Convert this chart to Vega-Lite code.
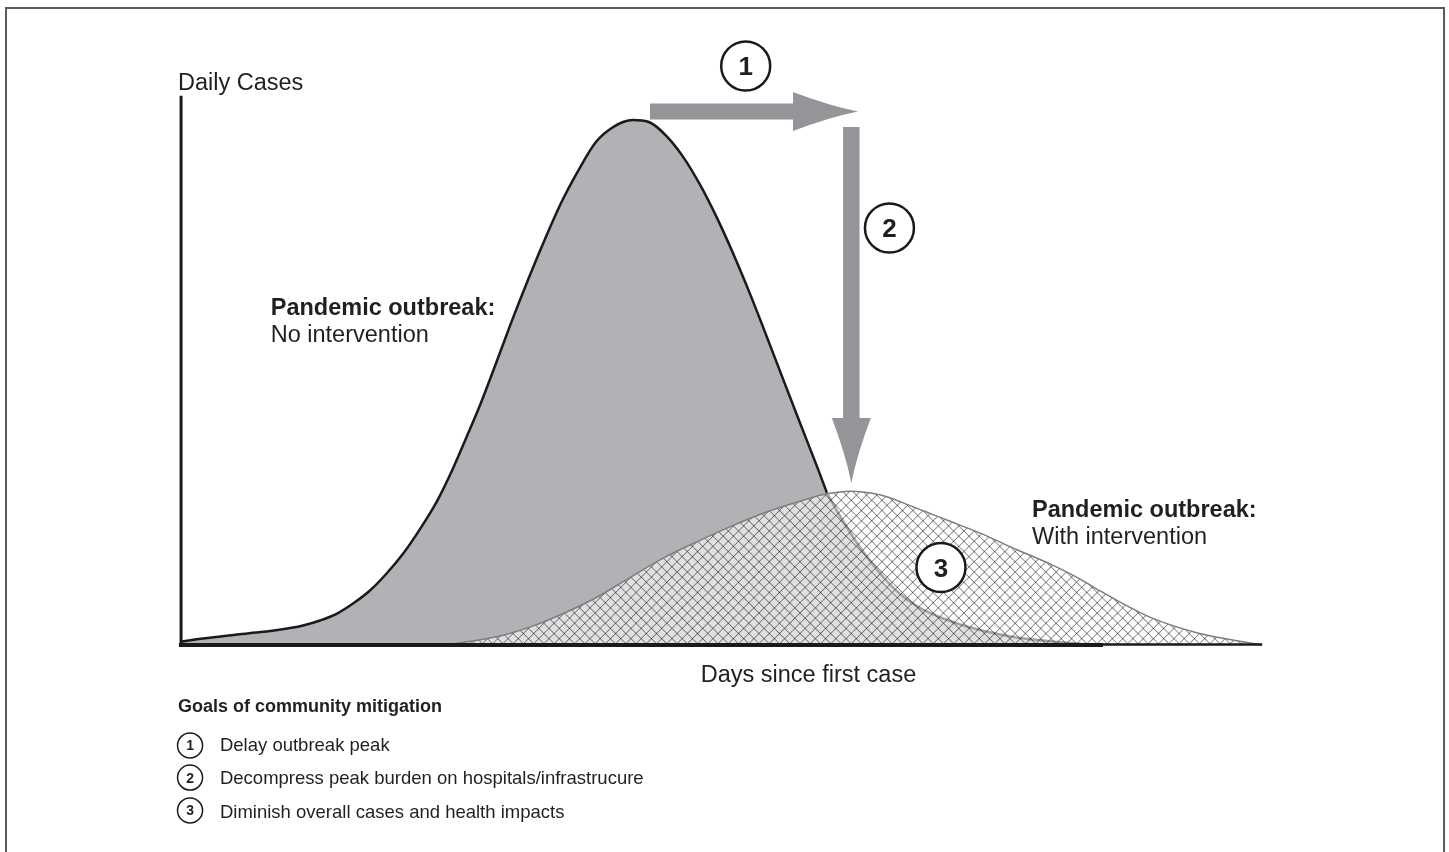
{
"$schema":"https://vega.github.io/schema/vega-lite/v6.json",
"width":1449,"height":852,"autosize":{"type":"none"},"padding":0,"background":"white",
"config":{"view":{"stroke":null},"font":"Liberation Sans"},
"data":{"values":[{}]},
"datasets":{
"noIntervention":[{"day":0,"cases":0.6},{"day":2.13,"cases":1.24},{"day":5.28,"cases":1.99},{"day":8.33,"cases":2.67},{"day":11.39,"cases":3.71},{"day":12.96,"cases":4.67},{"day":14.54,"cases":5.99},{"day":16.02,"cases":7.9},{"day":17.59,"cases":10.38},{"day":19.17,"cases":13.71},{"day":20.65,"cases":17.37},{"day":22.22,"cases":22.07},{"day":23.8,"cases":27.41},{"day":25.18,"cases":33.2},{"day":26.65,"cases":40.17},{"day":27.86,"cases":46.11},{"day":29.15,"cases":53.05},{"day":30.63,"cases":61.22},{"day":32.21,"cases":69.48},{"day":33.78,"cases":77.25},{"day":35.26,"cases":84.1},{"day":36.89,"cases":90.42},{"day":38.51,"cases":95.81},{"day":40.04,"cases":98.57},{"day":41.02,"cases":99.62},{"day":41.94,"cases":100},{"day":42.78,"cases":99.89},{"day":43.52,"cases":99.52},{"day":45.09,"cases":96.84},{"day":46.57,"cases":93.03},{"day":48.15,"cases":87.68},{"day":49.72,"cases":81.35},{"day":51.2,"cases":74.65},{"day":52.78,"cases":66.88},{"day":54.35,"cases":58.63},{"day":55.83,"cases":50.7},{"day":57.41,"cases":42.29},{"day":58.98,"cases":34.02},{"day":59.9,"cases":29.0},{"day":61.11,"cases":24.57},{"day":62.5,"cases":20.0},{"day":63.89,"cases":16.0},{"day":65.28,"cases":12.57},{"day":66.67,"cases":9.71},{"day":68.06,"cases":7.62},{"day":69.44,"cases":6.1},{"day":71.02,"cases":4.76},{"day":72.69,"cases":3.62},{"day":74.07,"cases":2.86},{"day":75.93,"cases":2.0},{"day":77.78,"cases":1.33},{"day":80.28,"cases":0.76},{"day":82.41,"cases":0.38},{"day":85.19,"cases":0}],
"withIntervention":[{"day":24.1,"cases":0},{"day":26.2,"cases":0.5},{"day":29.4,"cases":1.6},{"day":32.4,"cases":3.4},{"day":35.5,"cases":6.0},{"day":38.6,"cases":9.1},{"day":41.7,"cases":12.9},{"day":44.7,"cases":16.5},{"day":47.9,"cases":19.7},{"day":50.9,"cases":22.5},{"day":54.0,"cases":25.1},{"day":57.1,"cases":27.2},{"day":59.9,"cases":28.8},{"day":62.1,"cases":29.3},{"day":64.8,"cases":28.6},{"day":67.9,"cases":26.3},{"day":71.0,"cases":23.8},{"day":74.1,"cases":21.3},{"day":77.1,"cases":18.5},{"day":80.6,"cases":15.4},{"day":83.3,"cases":12.6},{"day":85.2,"cases":10.3},{"day":89.8,"cases":5.3},{"day":94.4,"cases":2.2},{"day":99.1,"cases":0.4},{"day":100.2,"cases":0}]
},
"layer":[
{"mark":{"type":"rect","fill":null,"stroke":"#5a5a5a","strokeWidth":2},
 "encoding":{"x":{"datum":-16.11,"type":"quantitative","scale":{"domain":[-16.6667,117.5],"nice":false,"zero":false},"axis":null},"x2":{"datum":117.04},
 "y":{"datum":121.33,"type":"quantitative","scale":{"domain":[-39.4286,122.8571],"nice":false,"zero":false},"axis":null},"y2":{"datum":-45}}},
{"data":{"name":"noIntervention"},"mark":{"type":"area","interpolate":"monotone","fill":"#b1b2b5"},
 "encoding":{"x":{"field":"day","type":"quantitative","axis":null},"y":{"field":"cases","type":"quantitative","axis":null}}},
{"data":{"name":"withIntervention"},"mark":{"type":"area","interpolate":"monotone","fill":"#ffffff","fillOpacity":0.6},
 "encoding":{"x":{"field":"day","type":"quantitative","axis":null},"y":{"field":"cases","type":"quantitative","axis":null}}},
{"data":{"name":"noIntervention"},"transform":[{"filter":"datum.day >= 59.9"}],"mark":{"type":"line","interpolate":"monotone","stroke":"#a3a3a3","strokeWidth":2.5},
 "encoding":{"x":{"field":"day","type":"quantitative","axis":null},"y":{"field":"cases","type":"quantitative","axis":null}}},
{"data":{"name":"withIntervention"},"mark":{"type":"area","interpolate":"monotone","blend":"multiply","fill":{"gradient":"linear","x1":0,"y1":0,"x2":1.147,"y2":0.2146,"stops":[
{"offset":0.1458,"color":"#fff"},{"offset":0.147,"color":"#828282"},{"offset":0.1482,"color":"#fff"},
{"offset":0.1563,"color":"#fff"},{"offset":0.1575,"color":"#828282"},{"offset":0.1587,"color":"#fff"},
{"offset":0.1668,"color":"#fff"},{"offset":0.168,"color":"#828282"},{"offset":0.1692,"color":"#fff"},
{"offset":0.1773,"color":"#fff"},{"offset":0.1785,"color":"#828282"},{"offset":0.1797,"color":"#fff"},
{"offset":0.1878,"color":"#fff"},{"offset":0.189,"color":"#828282"},{"offset":0.1902,"color":"#fff"},
{"offset":0.1983,"color":"#fff"},{"offset":0.1995,"color":"#828282"},{"offset":0.2007,"color":"#fff"},
{"offset":0.2088,"color":"#fff"},{"offset":0.21,"color":"#828282"},{"offset":0.2112,"color":"#fff"},
{"offset":0.2193,"color":"#fff"},{"offset":0.2205,"color":"#828282"},{"offset":0.2217,"color":"#fff"},
{"offset":0.2298,"color":"#fff"},{"offset":0.231,"color":"#828282"},{"offset":0.2322,"color":"#fff"},
{"offset":0.2403,"color":"#fff"},{"offset":0.2415,"color":"#828282"},{"offset":0.2427,"color":"#fff"},
{"offset":0.2508,"color":"#fff"},{"offset":0.252,"color":"#828282"},{"offset":0.2532,"color":"#fff"},
{"offset":0.2613,"color":"#fff"},{"offset":0.2625,"color":"#828282"},{"offset":0.2637,"color":"#fff"},
{"offset":0.2718,"color":"#fff"},{"offset":0.273,"color":"#828282"},{"offset":0.2742,"color":"#fff"},
{"offset":0.2823,"color":"#fff"},{"offset":0.2835,"color":"#828282"},{"offset":0.2847,"color":"#fff"},
{"offset":0.2928,"color":"#fff"},{"offset":0.294,"color":"#828282"},{"offset":0.2952,"color":"#fff"},
{"offset":0.3033,"color":"#fff"},{"offset":0.3045,"color":"#828282"},{"offset":0.3057,"color":"#fff"},
{"offset":0.3138,"color":"#fff"},{"offset":0.315,"color":"#828282"},{"offset":0.3162,"color":"#fff"},
{"offset":0.3243,"color":"#fff"},{"offset":0.3255,"color":"#828282"},{"offset":0.3267,"color":"#fff"},
{"offset":0.3348,"color":"#fff"},{"offset":0.336,"color":"#828282"},{"offset":0.3372,"color":"#fff"},
{"offset":0.3453,"color":"#fff"},{"offset":0.3465,"color":"#828282"},{"offset":0.3477,"color":"#fff"},
{"offset":0.3558,"color":"#fff"},{"offset":0.357,"color":"#828282"},{"offset":0.3582,"color":"#fff"},
{"offset":0.3663,"color":"#fff"},{"offset":0.3675,"color":"#828282"},{"offset":0.3687,"color":"#fff"},
{"offset":0.3768,"color":"#fff"},{"offset":0.378,"color":"#828282"},{"offset":0.3792,"color":"#fff"},
{"offset":0.3873,"color":"#fff"},{"offset":0.3885,"color":"#828282"},{"offset":0.3897,"color":"#fff"},
{"offset":0.3978,"color":"#fff"},{"offset":0.399,"color":"#828282"},{"offset":0.4002,"color":"#fff"},
{"offset":0.4083,"color":"#fff"},{"offset":0.4095,"color":"#828282"},{"offset":0.4107,"color":"#fff"},
{"offset":0.4188,"color":"#fff"},{"offset":0.42,"color":"#828282"},{"offset":0.4212,"color":"#fff"},
{"offset":0.4293,"color":"#fff"},{"offset":0.4305,"color":"#828282"},{"offset":0.4317,"color":"#fff"},
{"offset":0.4398,"color":"#fff"},{"offset":0.441,"color":"#828282"},{"offset":0.4422,"color":"#fff"},
{"offset":0.4503,"color":"#fff"},{"offset":0.4515,"color":"#828282"},{"offset":0.4527,"color":"#fff"},
{"offset":0.4608,"color":"#fff"},{"offset":0.462,"color":"#828282"},{"offset":0.4632,"color":"#fff"},
{"offset":0.4713,"color":"#fff"},{"offset":0.4725,"color":"#828282"},{"offset":0.4737,"color":"#fff"},
{"offset":0.4818,"color":"#fff"},{"offset":0.483,"color":"#828282"},{"offset":0.4842,"color":"#fff"},
{"offset":0.4923,"color":"#fff"},{"offset":0.4935,"color":"#828282"},{"offset":0.4947,"color":"#fff"},
{"offset":0.5028,"color":"#fff"},{"offset":0.504,"color":"#828282"},{"offset":0.5052,"color":"#fff"},
{"offset":0.5133,"color":"#fff"},{"offset":0.5145,"color":"#828282"},{"offset":0.5157,"color":"#fff"},
{"offset":0.5238,"color":"#fff"},{"offset":0.525,"color":"#828282"},{"offset":0.5262,"color":"#fff"},
{"offset":0.5343,"color":"#fff"},{"offset":0.5355,"color":"#828282"},{"offset":0.5367,"color":"#fff"},
{"offset":0.5448,"color":"#fff"},{"offset":0.546,"color":"#828282"},{"offset":0.5472,"color":"#fff"},
{"offset":0.5553,"color":"#fff"},{"offset":0.5565,"color":"#828282"},{"offset":0.5577,"color":"#fff"},
{"offset":0.5658,"color":"#fff"},{"offset":0.567,"color":"#828282"},{"offset":0.5682,"color":"#fff"},
{"offset":0.5763,"color":"#fff"},{"offset":0.5775,"color":"#828282"},{"offset":0.5787,"color":"#fff"},
{"offset":0.5868,"color":"#fff"},{"offset":0.588,"color":"#828282"},{"offset":0.5892,"color":"#fff"},
{"offset":0.5973,"color":"#fff"},{"offset":0.5985,"color":"#828282"},{"offset":0.5997,"color":"#fff"},
{"offset":0.6078,"color":"#fff"},{"offset":0.609,"color":"#828282"},{"offset":0.6102,"color":"#fff"},
{"offset":0.6183,"color":"#fff"},{"offset":0.6195,"color":"#828282"},{"offset":0.6207,"color":"#fff"},
{"offset":0.6288,"color":"#fff"},{"offset":0.63,"color":"#828282"},{"offset":0.6312,"color":"#fff"},
{"offset":0.6393,"color":"#fff"},{"offset":0.6405,"color":"#828282"},{"offset":0.6417,"color":"#fff"},
{"offset":0.6498,"color":"#fff"},{"offset":0.651,"color":"#828282"},{"offset":0.6522,"color":"#fff"},
{"offset":0.6603,"color":"#fff"},{"offset":0.6615,"color":"#828282"},{"offset":0.6627,"color":"#fff"},
{"offset":0.6708,"color":"#fff"},{"offset":0.672,"color":"#828282"},{"offset":0.6732,"color":"#fff"},
{"offset":0.6813,"color":"#fff"},{"offset":0.6825,"color":"#828282"},{"offset":0.6837,"color":"#fff"},
{"offset":0.6918,"color":"#fff"},{"offset":0.693,"color":"#828282"},{"offset":0.6942,"color":"#fff"},
{"offset":0.7023,"color":"#fff"},{"offset":0.7035,"color":"#828282"},{"offset":0.7047,"color":"#fff"},
{"offset":0.7128,"color":"#fff"},{"offset":0.714,"color":"#828282"},{"offset":0.7152,"color":"#fff"},
{"offset":0.7233,"color":"#fff"},{"offset":0.7245,"color":"#828282"},{"offset":0.7257,"color":"#fff"},
{"offset":0.7338,"color":"#fff"},{"offset":0.735,"color":"#828282"},{"offset":0.7362,"color":"#fff"},
{"offset":0.7443,"color":"#fff"},{"offset":0.7455,"color":"#828282"},{"offset":0.7467,"color":"#fff"},
{"offset":0.7548,"color":"#fff"},{"offset":0.756,"color":"#828282"},{"offset":0.7572,"color":"#fff"},
{"offset":0.7653,"color":"#fff"},{"offset":0.7665,"color":"#828282"},{"offset":0.7677,"color":"#fff"},
{"offset":0.7758,"color":"#fff"},{"offset":0.777,"color":"#828282"},{"offset":0.7782,"color":"#fff"},
{"offset":0.7863,"color":"#fff"},{"offset":0.7875,"color":"#828282"},{"offset":0.7887,"color":"#fff"},
{"offset":0.7968,"color":"#fff"},{"offset":0.798,"color":"#828282"},{"offset":0.7992,"color":"#fff"},
{"offset":0.8073,"color":"#fff"},{"offset":0.8085,"color":"#828282"},{"offset":0.8097,"color":"#fff"},
{"offset":0.8178,"color":"#fff"},{"offset":0.819,"color":"#828282"},{"offset":0.8202,"color":"#fff"},
{"offset":0.8283,"color":"#fff"},{"offset":0.8295,"color":"#828282"},{"offset":0.8307,"color":"#fff"},
{"offset":0.8388,"color":"#fff"},{"offset":0.84,"color":"#828282"},{"offset":0.8412,"color":"#fff"},
{"offset":0.8493,"color":"#fff"},{"offset":0.8505,"color":"#828282"},{"offset":0.8517,"color":"#fff"},
{"offset":0.8598,"color":"#fff"},{"offset":0.861,"color":"#828282"},{"offset":0.8622,"color":"#fff"},
{"offset":0.8703,"color":"#fff"},{"offset":0.8715,"color":"#828282"},{"offset":0.8727,"color":"#fff"},
{"offset":0.8808,"color":"#fff"},{"offset":0.882,"color":"#828282"},{"offset":0.8832,"color":"#fff"},
{"offset":0.8913,"color":"#fff"},{"offset":0.8925,"color":"#828282"},{"offset":0.8937,"color":"#fff"},
{"offset":0.9018,"color":"#fff"},{"offset":0.903,"color":"#828282"},{"offset":0.9042,"color":"#fff"},
{"offset":0.9123,"color":"#fff"},{"offset":0.9135,"color":"#828282"},{"offset":0.9147,"color":"#fff"},
{"offset":0.9228,"color":"#fff"},{"offset":0.924,"color":"#828282"},{"offset":0.9252,"color":"#fff"},
{"offset":0.9333,"color":"#fff"},{"offset":0.9345,"color":"#828282"},{"offset":0.9357,"color":"#fff"},
{"offset":0.9438,"color":"#fff"},{"offset":0.945,"color":"#828282"},{"offset":0.9462,"color":"#fff"},
{"offset":0.9543,"color":"#fff"},{"offset":0.9555,"color":"#828282"},{"offset":0.9567,"color":"#fff"},
{"offset":0.9648,"color":"#fff"},{"offset":0.966,"color":"#828282"},{"offset":0.9672,"color":"#fff"},
{"offset":0.9753,"color":"#fff"},{"offset":0.9765,"color":"#828282"},{"offset":0.9777,"color":"#fff"},
{"offset":0.9858,"color":"#fff"},{"offset":0.987,"color":"#828282"},{"offset":0.9882,"color":"#fff"},
{"offset":0.9963,"color":"#fff"},{"offset":0.9975,"color":"#828282"},{"offset":0.9987,"color":"#fff"}]}},
 "encoding":{"x":{"field":"day","type":"quantitative","axis":null},"y":{"field":"cases","type":"quantitative","axis":null}}},
{"data":{"name":"withIntervention"},"mark":{"type":"area","interpolate":"monotone","blend":"multiply","fill":{"gradient":"linear","x1":1,"y1":0,"x2":-0.147,"y2":0.2146,"stops":[
{"offset":0.1458,"color":"#fff"},{"offset":0.147,"color":"#828282"},{"offset":0.1482,"color":"#fff"},
{"offset":0.1563,"color":"#fff"},{"offset":0.1575,"color":"#828282"},{"offset":0.1587,"color":"#fff"},
{"offset":0.1668,"color":"#fff"},{"offset":0.168,"color":"#828282"},{"offset":0.1692,"color":"#fff"},
{"offset":0.1773,"color":"#fff"},{"offset":0.1785,"color":"#828282"},{"offset":0.1797,"color":"#fff"},
{"offset":0.1878,"color":"#fff"},{"offset":0.189,"color":"#828282"},{"offset":0.1902,"color":"#fff"},
{"offset":0.1983,"color":"#fff"},{"offset":0.1995,"color":"#828282"},{"offset":0.2007,"color":"#fff"},
{"offset":0.2088,"color":"#fff"},{"offset":0.21,"color":"#828282"},{"offset":0.2112,"color":"#fff"},
{"offset":0.2193,"color":"#fff"},{"offset":0.2205,"color":"#828282"},{"offset":0.2217,"color":"#fff"},
{"offset":0.2298,"color":"#fff"},{"offset":0.231,"color":"#828282"},{"offset":0.2322,"color":"#fff"},
{"offset":0.2403,"color":"#fff"},{"offset":0.2415,"color":"#828282"},{"offset":0.2427,"color":"#fff"},
{"offset":0.2508,"color":"#fff"},{"offset":0.252,"color":"#828282"},{"offset":0.2532,"color":"#fff"},
{"offset":0.2613,"color":"#fff"},{"offset":0.2625,"color":"#828282"},{"offset":0.2637,"color":"#fff"},
{"offset":0.2718,"color":"#fff"},{"offset":0.273,"color":"#828282"},{"offset":0.2742,"color":"#fff"},
{"offset":0.2823,"color":"#fff"},{"offset":0.2835,"color":"#828282"},{"offset":0.2847,"color":"#fff"},
{"offset":0.2928,"color":"#fff"},{"offset":0.294,"color":"#828282"},{"offset":0.2952,"color":"#fff"},
{"offset":0.3033,"color":"#fff"},{"offset":0.3045,"color":"#828282"},{"offset":0.3057,"color":"#fff"},
{"offset":0.3138,"color":"#fff"},{"offset":0.315,"color":"#828282"},{"offset":0.3162,"color":"#fff"},
{"offset":0.3243,"color":"#fff"},{"offset":0.3255,"color":"#828282"},{"offset":0.3267,"color":"#fff"},
{"offset":0.3348,"color":"#fff"},{"offset":0.336,"color":"#828282"},{"offset":0.3372,"color":"#fff"},
{"offset":0.3453,"color":"#fff"},{"offset":0.3465,"color":"#828282"},{"offset":0.3477,"color":"#fff"},
{"offset":0.3558,"color":"#fff"},{"offset":0.357,"color":"#828282"},{"offset":0.3582,"color":"#fff"},
{"offset":0.3663,"color":"#fff"},{"offset":0.3675,"color":"#828282"},{"offset":0.3687,"color":"#fff"},
{"offset":0.3768,"color":"#fff"},{"offset":0.378,"color":"#828282"},{"offset":0.3792,"color":"#fff"},
{"offset":0.3873,"color":"#fff"},{"offset":0.3885,"color":"#828282"},{"offset":0.3897,"color":"#fff"},
{"offset":0.3978,"color":"#fff"},{"offset":0.399,"color":"#828282"},{"offset":0.4002,"color":"#fff"},
{"offset":0.4083,"color":"#fff"},{"offset":0.4095,"color":"#828282"},{"offset":0.4107,"color":"#fff"},
{"offset":0.4188,"color":"#fff"},{"offset":0.42,"color":"#828282"},{"offset":0.4212,"color":"#fff"},
{"offset":0.4293,"color":"#fff"},{"offset":0.4305,"color":"#828282"},{"offset":0.4317,"color":"#fff"},
{"offset":0.4398,"color":"#fff"},{"offset":0.441,"color":"#828282"},{"offset":0.4422,"color":"#fff"},
{"offset":0.4503,"color":"#fff"},{"offset":0.4515,"color":"#828282"},{"offset":0.4527,"color":"#fff"},
{"offset":0.4608,"color":"#fff"},{"offset":0.462,"color":"#828282"},{"offset":0.4632,"color":"#fff"},
{"offset":0.4713,"color":"#fff"},{"offset":0.4725,"color":"#828282"},{"offset":0.4737,"color":"#fff"},
{"offset":0.4818,"color":"#fff"},{"offset":0.483,"color":"#828282"},{"offset":0.4842,"color":"#fff"},
{"offset":0.4923,"color":"#fff"},{"offset":0.4935,"color":"#828282"},{"offset":0.4947,"color":"#fff"},
{"offset":0.5028,"color":"#fff"},{"offset":0.504,"color":"#828282"},{"offset":0.5052,"color":"#fff"},
{"offset":0.5133,"color":"#fff"},{"offset":0.5145,"color":"#828282"},{"offset":0.5157,"color":"#fff"},
{"offset":0.5238,"color":"#fff"},{"offset":0.525,"color":"#828282"},{"offset":0.5262,"color":"#fff"},
{"offset":0.5343,"color":"#fff"},{"offset":0.5355,"color":"#828282"},{"offset":0.5367,"color":"#fff"},
{"offset":0.5448,"color":"#fff"},{"offset":0.546,"color":"#828282"},{"offset":0.5472,"color":"#fff"},
{"offset":0.5553,"color":"#fff"},{"offset":0.5565,"color":"#828282"},{"offset":0.5577,"color":"#fff"},
{"offset":0.5658,"color":"#fff"},{"offset":0.567,"color":"#828282"},{"offset":0.5682,"color":"#fff"},
{"offset":0.5763,"color":"#fff"},{"offset":0.5775,"color":"#828282"},{"offset":0.5787,"color":"#fff"},
{"offset":0.5868,"color":"#fff"},{"offset":0.588,"color":"#828282"},{"offset":0.5892,"color":"#fff"},
{"offset":0.5973,"color":"#fff"},{"offset":0.5985,"color":"#828282"},{"offset":0.5997,"color":"#fff"},
{"offset":0.6078,"color":"#fff"},{"offset":0.609,"color":"#828282"},{"offset":0.6102,"color":"#fff"},
{"offset":0.6183,"color":"#fff"},{"offset":0.6195,"color":"#828282"},{"offset":0.6207,"color":"#fff"},
{"offset":0.6288,"color":"#fff"},{"offset":0.63,"color":"#828282"},{"offset":0.6312,"color":"#fff"},
{"offset":0.6393,"color":"#fff"},{"offset":0.6405,"color":"#828282"},{"offset":0.6417,"color":"#fff"},
{"offset":0.6498,"color":"#fff"},{"offset":0.651,"color":"#828282"},{"offset":0.6522,"color":"#fff"},
{"offset":0.6603,"color":"#fff"},{"offset":0.6615,"color":"#828282"},{"offset":0.6627,"color":"#fff"},
{"offset":0.6708,"color":"#fff"},{"offset":0.672,"color":"#828282"},{"offset":0.6732,"color":"#fff"},
{"offset":0.6813,"color":"#fff"},{"offset":0.6825,"color":"#828282"},{"offset":0.6837,"color":"#fff"},
{"offset":0.6918,"color":"#fff"},{"offset":0.693,"color":"#828282"},{"offset":0.6942,"color":"#fff"},
{"offset":0.7023,"color":"#fff"},{"offset":0.7035,"color":"#828282"},{"offset":0.7047,"color":"#fff"},
{"offset":0.7128,"color":"#fff"},{"offset":0.714,"color":"#828282"},{"offset":0.7152,"color":"#fff"},
{"offset":0.7233,"color":"#fff"},{"offset":0.7245,"color":"#828282"},{"offset":0.7257,"color":"#fff"},
{"offset":0.7338,"color":"#fff"},{"offset":0.735,"color":"#828282"},{"offset":0.7362,"color":"#fff"},
{"offset":0.7443,"color":"#fff"},{"offset":0.7455,"color":"#828282"},{"offset":0.7467,"color":"#fff"},
{"offset":0.7548,"color":"#fff"},{"offset":0.756,"color":"#828282"},{"offset":0.7572,"color":"#fff"},
{"offset":0.7653,"color":"#fff"},{"offset":0.7665,"color":"#828282"},{"offset":0.7677,"color":"#fff"},
{"offset":0.7758,"color":"#fff"},{"offset":0.777,"color":"#828282"},{"offset":0.7782,"color":"#fff"},
{"offset":0.7863,"color":"#fff"},{"offset":0.7875,"color":"#828282"},{"offset":0.7887,"color":"#fff"},
{"offset":0.7968,"color":"#fff"},{"offset":0.798,"color":"#828282"},{"offset":0.7992,"color":"#fff"},
{"offset":0.8073,"color":"#fff"},{"offset":0.8085,"color":"#828282"},{"offset":0.8097,"color":"#fff"},
{"offset":0.8178,"color":"#fff"},{"offset":0.819,"color":"#828282"},{"offset":0.8202,"color":"#fff"},
{"offset":0.8283,"color":"#fff"},{"offset":0.8295,"color":"#828282"},{"offset":0.8307,"color":"#fff"},
{"offset":0.8388,"color":"#fff"},{"offset":0.84,"color":"#828282"},{"offset":0.8412,"color":"#fff"},
{"offset":0.8493,"color":"#fff"},{"offset":0.8505,"color":"#828282"},{"offset":0.8517,"color":"#fff"},
{"offset":0.8598,"color":"#fff"},{"offset":0.861,"color":"#828282"},{"offset":0.8622,"color":"#fff"},
{"offset":0.8703,"color":"#fff"},{"offset":0.8715,"color":"#828282"},{"offset":0.8727,"color":"#fff"},
{"offset":0.8808,"color":"#fff"},{"offset":0.882,"color":"#828282"},{"offset":0.8832,"color":"#fff"},
{"offset":0.8913,"color":"#fff"},{"offset":0.8925,"color":"#828282"},{"offset":0.8937,"color":"#fff"},
{"offset":0.9018,"color":"#fff"},{"offset":0.903,"color":"#828282"},{"offset":0.9042,"color":"#fff"},
{"offset":0.9123,"color":"#fff"},{"offset":0.9135,"color":"#828282"},{"offset":0.9147,"color":"#fff"},
{"offset":0.9228,"color":"#fff"},{"offset":0.924,"color":"#828282"},{"offset":0.9252,"color":"#fff"},
{"offset":0.9333,"color":"#fff"},{"offset":0.9345,"color":"#828282"},{"offset":0.9357,"color":"#fff"},
{"offset":0.9438,"color":"#fff"},{"offset":0.945,"color":"#828282"},{"offset":0.9462,"color":"#fff"},
{"offset":0.9543,"color":"#fff"},{"offset":0.9555,"color":"#828282"},{"offset":0.9567,"color":"#fff"},
{"offset":0.9648,"color":"#fff"},{"offset":0.966,"color":"#828282"},{"offset":0.9672,"color":"#fff"},
{"offset":0.9753,"color":"#fff"},{"offset":0.9765,"color":"#828282"},{"offset":0.9777,"color":"#fff"},
{"offset":0.9858,"color":"#fff"},{"offset":0.987,"color":"#828282"},{"offset":0.9882,"color":"#fff"},
{"offset":0.9963,"color":"#fff"},{"offset":0.9975,"color":"#828282"},{"offset":0.9987,"color":"#fff"}]}},
 "encoding":{"x":{"field":"day","type":"quantitative","axis":null},"y":{"field":"cases","type":"quantitative","axis":null}}},
{"data":{"name":"noIntervention"},"transform":[{"filter":"datum.day <= 59.9"}],"mark":{"type":"line","interpolate":"monotone","stroke":"#1a1a1a","strokeWidth":2.5},
 "encoding":{"x":{"field":"day","type":"quantitative","axis":null},"y":{"field":"cases","type":"quantitative","axis":null}}},
{"data":{"name":"withIntervention"},"mark":{"type":"line","interpolate":"monotone","stroke":"#7d7d7d","strokeWidth":1.5},
 "encoding":{"x":{"field":"day","type":"quantitative","axis":null},"y":{"field":"cases","type":"quantitative","axis":null}}},
{"mark":{"type":"rule","stroke":"#1a1a1a","strokeWidth":3,"strokeCap":"butt"},
 "encoding":{"x":{"datum":0.1,"type":"quantitative","axis":null},"y":{"datum":0,"type":"quantitative","axis":null},"y2":{"datum":104.6}}},
{"mark":{"type":"rule","stroke":"#1a1a1a","strokeWidth":4,"strokeCap":"butt"},
 "encoding":{"x":{"datum":-0.1,"type":"quantitative","axis":null},"x2":{"datum":85.46},"y":{"datum":0,"type":"quantitative","axis":null}}},
{"mark":{"type":"rule","stroke":"#1a1a1a","strokeWidth":2.5,"strokeCap":"butt"},
 "encoding":{"x":{"datum":85.4,"type":"quantitative","axis":null},"x2":{"datum":100.2},"y":{"datum":0.1,"type":"quantitative","axis":null}}},
{"mark":{"type":"rule","stroke":"#939598","strokeWidth":16,"strokeCap":"butt"},
 "encoding":{"x":{"datum":43.52,"type":"quantitative","axis":null},"x2":{"datum":57.0},"y":{"datum":101.62,"type":"quantitative","axis":null}}},
{"mark":{"type":"point","shape":"M -1 -0.6 Q 0.1 -0.18 1 0 Q 0.1 0.18 -1 0.6 Z","size":4225,"filled":true,"color":"#939598","opacity":1,"strokeWidth":0},
 "encoding":{"x":{"datum":59.77,"type":"quantitative","axis":null},"y":{"datum":101.62,"type":"quantitative","axis":null}}},
{"mark":{"type":"rule","stroke":"#939598","strokeWidth":16.5,"strokeCap":"butt"},
 "encoding":{"x":{"datum":62.16,"type":"quantitative","axis":null},"y":{"datum":98.67,"type":"quantitative","axis":null},"y2":{"datum":42.9}}},
{"mark":{"type":"point","shape":"M -1 -0.6 Q 0.1 -0.18 1 0 Q 0.1 0.18 -1 0.6 Z","size":4225,"filled":true,"color":"#939598","opacity":1,"strokeWidth":0,"angle":90},
 "encoding":{"x":{"datum":62.16,"type":"quantitative","axis":null},"y":{"datum":37.05,"type":"quantitative","axis":null}}},
{"mark":{"type":"point","shape":"circle","size":2401,"fill":"#ffffff","stroke":"#1a1a1a","strokeWidth":2.5,"opacity":1,"fillOpacity":1},
 "encoding":{"x":{"datum":52.38,"type":"quantitative","axis":null},"y":{"datum":110.29,"type":"quantitative","axis":null}}},
{"mark":{"type":"point","shape":"circle","size":2401,"fill":"#ffffff","stroke":"#1a1a1a","strokeWidth":2.5,"opacity":1,"fillOpacity":1},
 "encoding":{"x":{"datum":65.69,"type":"quantitative","axis":null},"y":{"datum":79.43,"type":"quantitative","axis":null}}},
{"mark":{"type":"point","shape":"circle","size":2401,"fill":"#ffffff","stroke":"#1a1a1a","strokeWidth":2.5,"opacity":1,"fillOpacity":1},
 "encoding":{"x":{"datum":70.46,"type":"quantitative","axis":null},"y":{"datum":14.76,"type":"quantitative","axis":null}}},
{"mark":{"type":"text","text":"1","font":"Liberation Sans","fontSize":26,"fontWeight":"bold","align":"center","baseline":"middle","dy":1.5,"color":"#231f20"},
 "encoding":{"x":{"datum":52.38,"type":"quantitative","axis":null},"y":{"datum":110.29,"type":"quantitative","axis":null}}},
{"mark":{"type":"text","text":"2","font":"Liberation Sans","fontSize":26,"fontWeight":"bold","align":"center","baseline":"middle","dy":1.5,"color":"#231f20"},
 "encoding":{"x":{"datum":65.69,"type":"quantitative","axis":null},"y":{"datum":79.43,"type":"quantitative","axis":null}}},
{"mark":{"type":"text","text":"3","font":"Liberation Sans","fontSize":26,"fontWeight":"bold","align":"center","baseline":"middle","dy":1.5,"color":"#231f20"},
 "encoding":{"x":{"datum":70.46,"type":"quantitative","axis":null},"y":{"datum":14.76,"type":"quantitative","axis":null}}},
{"mark":{"type":"text","text":"Daily Cases","font":"Liberation Sans","fontSize":23.5,"align":"left","baseline":"alphabetic","color":"#231f20"},
 "encoding":{"x":{"datum":-0.19,"type":"quantitative","axis":null},"y":{"datum":105.71,"type":"quantitative","axis":null}}},
{"mark":{"type":"text","text":"Pandemic outbreak:","font":"Liberation Sans","fontSize":23.5,"fontWeight":"bold","align":"left","baseline":"alphabetic","color":"#231f20"},
 "encoding":{"x":{"datum":8.4,"type":"quantitative","axis":null},"y":{"datum":62.86,"type":"quantitative","axis":null}}},
{"mark":{"type":"text","text":"No intervention","font":"Liberation Sans","fontSize":23.5,"align":"left","baseline":"alphabetic","color":"#231f20"},
 "encoding":{"x":{"datum":8.4,"type":"quantitative","axis":null},"y":{"datum":57.77,"type":"quantitative","axis":null}}},
{"mark":{"type":"text","text":"Pandemic outbreak:","font":"Liberation Sans","fontSize":23.5,"fontWeight":"bold","align":"left","baseline":"alphabetic","color":"#231f20"},
 "encoding":{"x":{"datum":78.89,"type":"quantitative","axis":null},"y":{"datum":24.44,"type":"quantitative","axis":null}}},
{"mark":{"type":"text","text":"With intervention","font":"Liberation Sans","fontSize":23.5,"align":"left","baseline":"alphabetic","color":"#231f20"},
 "encoding":{"x":{"datum":78.89,"type":"quantitative","axis":null},"y":{"datum":19.24,"type":"quantitative","axis":null}}},
{"mark":{"type":"text","text":"Days since first case","font":"Liberation Sans","fontSize":23.5,"align":"center","baseline":"alphabetic","color":"#231f20"},
 "encoding":{"x":{"datum":58.19,"type":"quantitative","axis":null},"y":{"datum":-7.05,"type":"quantitative","axis":null}}},
{"mark":{"type":"text","text":"Goals of community mitigation","font":"Liberation Sans","fontSize":18,"fontWeight":"bold","align":"left","baseline":"alphabetic","color":"#231f20"},
 "encoding":{"x":{"datum":-0.19,"type":"quantitative","axis":null},"y":{"datum":-12.76,"type":"quantitative","axis":null}}},
{"mark":{"type":"point","shape":"circle","size":625,"fill":"#ffffff","stroke":"#1a1a1a","strokeWidth":1.5,"opacity":1,"fillOpacity":1},
 "encoding":{"x":{"datum":0.93,"type":"quantitative","axis":null},"y":{"datum":-19.14,"type":"quantitative","axis":null}}},
{"mark":{"type":"point","shape":"circle","size":625,"fill":"#ffffff","stroke":"#1a1a1a","strokeWidth":1.5,"opacity":1,"fillOpacity":1},
 "encoding":{"x":{"datum":0.93,"type":"quantitative","axis":null},"y":{"datum":-25.24,"type":"quantitative","axis":null}}},
{"mark":{"type":"point","shape":"circle","size":625,"fill":"#ffffff","stroke":"#1a1a1a","strokeWidth":1.5,"opacity":1,"fillOpacity":1},
 "encoding":{"x":{"datum":0.93,"type":"quantitative","axis":null},"y":{"datum":-31.52,"type":"quantitative","axis":null}}},
{"mark":{"type":"text","text":"1","font":"Liberation Sans","fontSize":14,"fontWeight":"bold","align":"center","baseline":"middle","dy":1,"color":"#231f20"},
 "encoding":{"x":{"datum":0.93,"type":"quantitative","axis":null},"y":{"datum":-19.14,"type":"quantitative","axis":null}}},
{"mark":{"type":"text","text":"2","font":"Liberation Sans","fontSize":14,"fontWeight":"bold","align":"center","baseline":"middle","dy":1,"color":"#231f20"},
 "encoding":{"x":{"datum":0.93,"type":"quantitative","axis":null},"y":{"datum":-25.24,"type":"quantitative","axis":null}}},
{"mark":{"type":"text","text":"3","font":"Liberation Sans","fontSize":14,"fontWeight":"bold","align":"center","baseline":"middle","dy":1,"color":"#231f20"},
 "encoding":{"x":{"datum":0.93,"type":"quantitative","axis":null},"y":{"datum":-31.52,"type":"quantitative","axis":null}}},
{"mark":{"type":"text","text":"Delay outbreak peak","font":"Liberation Sans","fontSize":18.5,"align":"left","baseline":"alphabetic","color":"#231f20"},
 "encoding":{"x":{"datum":3.7,"type":"quantitative","axis":null},"y":{"datum":-20.13,"type":"quantitative","axis":null}}},
{"mark":{"type":"text","text":"Decompress peak burden on hospitals/infrastrucure","font":"Liberation Sans","fontSize":18.5,"align":"left","baseline":"alphabetic","color":"#231f20"},
 "encoding":{"x":{"datum":3.7,"type":"quantitative","axis":null},"y":{"datum":-26.48,"type":"quantitative","axis":null}}},
{"mark":{"type":"text","text":"Diminish overall cases and health impacts","font":"Liberation Sans","fontSize":18.5,"align":"left","baseline":"alphabetic","color":"#231f20"},
 "encoding":{"x":{"datum":3.7,"type":"quantitative","axis":null},"y":{"datum":-32.95,"type":"quantitative","axis":null}}}
]
}
